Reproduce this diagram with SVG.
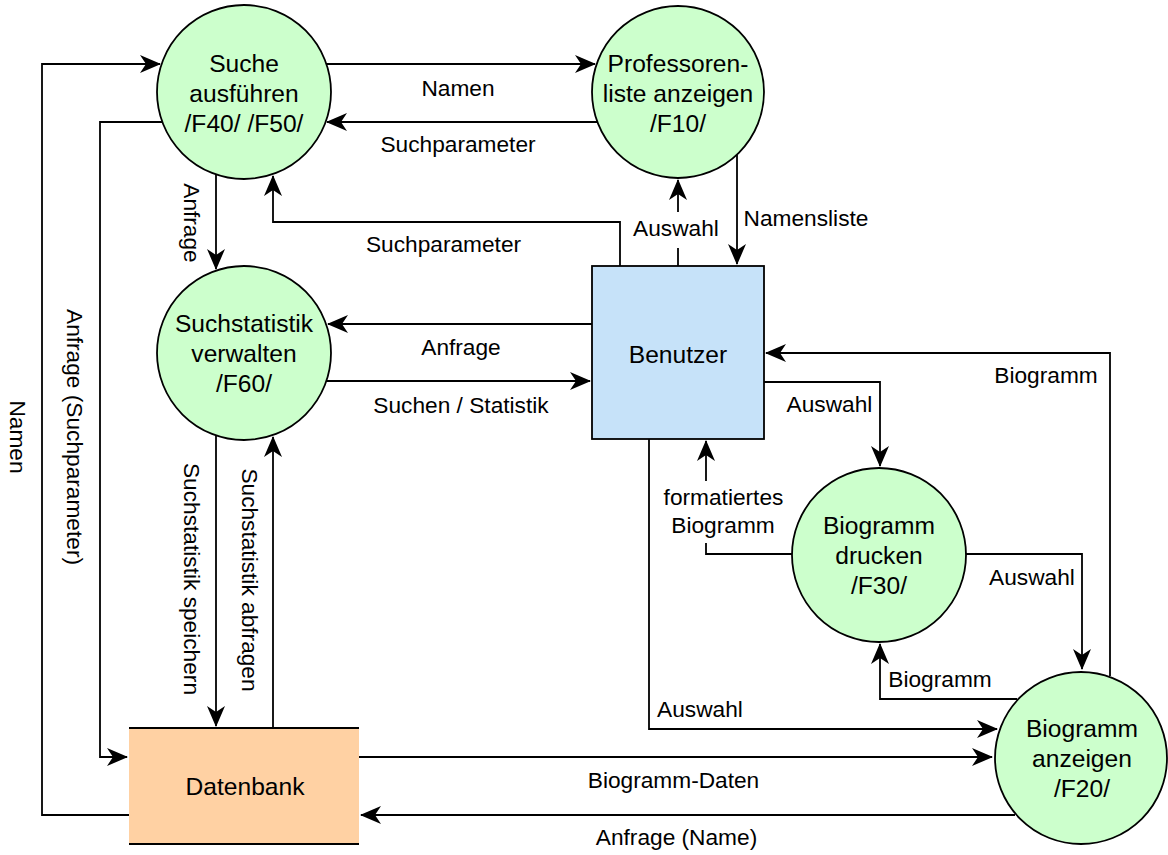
<svg xmlns="http://www.w3.org/2000/svg" width="1168" height="855" viewBox="0 0 1168 855">
<defs>
<style>
.node{stroke:#000;stroke-width:1.8}
.proc{fill:#CCFFCC}
.ext{fill:#C6E2F9}
.store{fill:#FFD1A3}
.nt{font-family:"Liberation Sans",Arial,sans-serif;font-size:24.6px;fill:#000;text-anchor:middle}
.lt{font-family:"Liberation Sans",Arial,sans-serif;font-size:22.7px;fill:#000;text-anchor:middle}
.c{fill:none;stroke:#000;stroke-width:1.8;marker-end:url(#arr)}
.bg{fill:#fff}
</style>
<marker id="arr" markerUnits="userSpaceOnUse" markerWidth="24" markerHeight="22" viewBox="-22 -11 24 22" refX="0" refY="0" orient="auto" overflow="visible">
<path d="M1,0 L-20,-9 L-14,0 L-20,9 Z" fill="#000"/>
</marker>
</defs>
<rect width="1168" height="855" fill="#fff"/>

<g id="connectors">
<path class="c" d="M129,815 H42 V64 H160"/>
<path class="c" d="M162,122 H100 V757 H127"/>
<path class="c" d="M326,64 H595"/>
<path class="c" d="M597,122 H327"/>
<path class="c" d="M216,174 V269"/>
<path class="c" d="M620,266 V222 H273 V176"/>
<path class="c" d="M678,266 V180"/>
<path class="c" d="M737,155 V264"/>
<path class="c" d="M592,324 H328"/>
<path class="c" d="M326,381 H590"/>
<path class="c" d="M216,435 V726"/>
<path class="c" d="M273,728 V437"/>
<path class="c" d="M1110,676 V353 H766"/>
<path class="c" d="M764,382 H880 V466"/>
<path class="c" d="M792,554 H706 V441"/>
<path class="c" d="M966,554 H1082 V669"/>
<path class="c" d="M1017,699 H880 V644"/>
<path class="c" d="M649,439 V729 H997"/>
<path class="c" d="M359,757 H992"/>
<path class="c" d="M1015,815 H361"/>
</g>

<g id="labels">
<text class="lt" transform="translate(18,437) rotate(90)" x="0" y="8">Namen</text>
<text class="lt" transform="translate(75,437) rotate(90)" x="0" y="8">Anfrage (Suchparameter)</text>
<text class="lt" x="458" y="96">Namen</text>
<text class="lt" x="458" y="152">Suchparameter</text>
<text class="lt" transform="translate(192,223) rotate(90)" x="0" y="8">Anfrage</text>
<text class="lt" x="443.5" y="252">Suchparameter</text>
<rect class="bg" x="632" y="212" width="90" height="36"/>
<text class="lt" x="676" y="236">Auswahl</text>
<text class="lt" x="806" y="226">Namensliste</text>
<text class="lt" x="461" y="355">Anfrage</text>
<text class="lt" x="461" y="413">Suchen / Statistik</text>
<text class="lt" transform="translate(192,579) rotate(90)" x="0" y="8">Suchstatistik speichern</text>
<text class="lt" transform="translate(250,580) rotate(90)" x="0" y="8">Suchstatistik abfragen</text>
<text class="lt" x="1046" y="383">Biogramm</text>
<text class="lt" x="829.5" y="412">Auswahl</text>
<rect class="bg" x="660" y="481" width="128" height="62"/>
<text class="lt" x="723.5" y="505">formatiertes</text>
<text class="lt" x="723" y="533">Biogramm</text>
<text class="lt" x="1032" y="585">Auswahl</text>
<text class="lt" x="940" y="687">Biogramm</text>
<text class="lt" x="700" y="717">Auswahl</text>
<text class="lt" x="673.5" y="788">Biogramm-Daten</text>
<text class="lt" x="676.5" y="845">Anfrage (Name)</text>
</g>

<g id="suche">
<circle class="node proc" cx="244" cy="92" r="87"/>
<text class="nt" x="244" y="72">Suche</text>
<text class="nt" x="244" y="102">ausführen</text>
<text class="nt" x="244" y="132">/F40/ /F50/</text>
</g>

<g id="professorenliste">
<circle class="node proc" cx="678" cy="92" r="86"/>
<text class="nt" x="678" y="72">Professoren-</text>
<text class="nt" x="678" y="102">liste anzeigen</text>
<text class="nt" x="678" y="132">/F10/</text>
</g>

<g id="suchstatistik">
<circle class="node proc" cx="244" cy="353" r="87"/>
<text class="nt" x="244" y="332">Suchstatistik</text>
<text class="nt" x="244" y="362">verwalten</text>
<text class="nt" x="244" y="392">/F60/</text>
</g>

<g id="benutzer">
<rect class="node ext" x="592" y="266" width="172" height="173"/>
<text class="nt" x="678" y="363">Benutzer</text>
</g>

<g id="drucken">
<circle class="node proc" cx="879" cy="555" r="87"/>
<text class="nt" x="879" y="534">Biogramm</text>
<text class="nt" x="879" y="564">drucken</text>
<text class="nt" x="879" y="594">/F30/</text>
</g>

<g id="anzeigen">
<circle class="node proc" cx="1081" cy="758" r="86"/>
<text class="nt" x="1082" y="737">Biogramm</text>
<text class="nt" x="1082" y="767">anzeigen</text>
<text class="nt" x="1082" y="797">/F20/</text>
</g>

<g id="datenbank">
<rect class="store" x="129" y="728" width="230" height="116"/>
<path class="node" d="M129,728 H359 M129,844 H359" fill="none"/>
<text class="nt" x="245" y="795">Datenbank</text>
</g>
</svg>
